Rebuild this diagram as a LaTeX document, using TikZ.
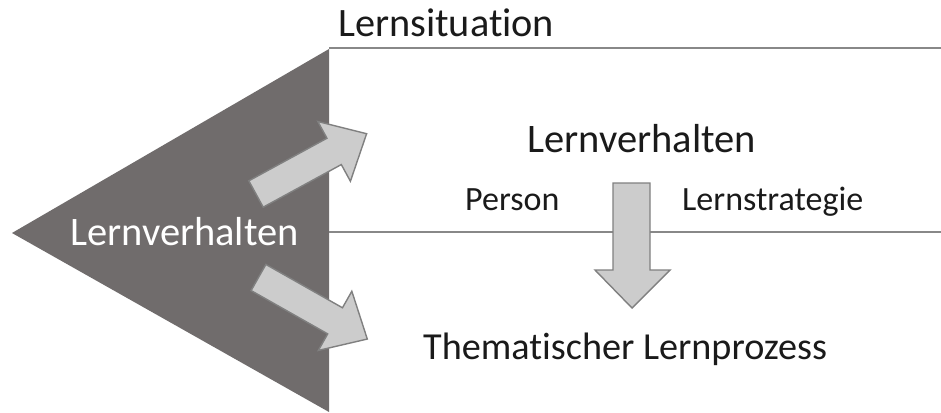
\documentclass[tikz,border=0pt]{standalone}
\usepackage{fontspec}
\setmainfont[Ligatures=NoCommon]{Carlito}
\definecolor{wedge}{RGB}{112,108,108}
\definecolor{arrowfill}{RGB}{204,204,204}
\definecolor{arrowline}{RGB}{128,128,128}
\definecolor{rule}{RGB}{136,136,136}
\definecolor{ink}{RGB}{26,26,26}
\begin{document}
\begin{tikzpicture}[x=1pt,y=-1pt,
  label/.style={inner sep=0pt,anchor=base west,text=ink,font=\fontsize{#1}{#1}\selectfont},
  label/.default=38.5,
  rulerline/.style={draw=rule,line width=1.6pt},
  fatarrow/.style={fill=arrowfill,draw=arrowline,line width=1.4pt,line join=miter}]
\useasboundingbox (0,0) rectangle (941,412);
\fill[white] (0,0) rectangle (941,412);

% wedge on the left
\fill[wedge] (12,233) -- (329,49) -- (329,412) -- cycle;

% horizontal rules
\coordinate (topL) at (329,48);
\coordinate (topR) at (941,48);
\coordinate (midL) at (329,232);
\coordinate (midR) at (941,232);
\draw[rulerline] (topL) -- (topR);
\draw[rulerline] (midL) -- (midR);

% diagonal block arrows out of the wedge
\begin{scope}[shift={(256,194)},rotate=28.6]
  \draw[fatarrow] (0,-15) -- (89,-15) -- (89,-34) -- (126,0) -- (89,34) -- (89,15) -- (0,15) -- cycle;
\end{scope}
\begin{scope}[shift={(258.5,277.5)},rotate=-29.5]
  \draw[fatarrow] (0,-15) -- (88,-15) -- (88,-34) -- (125,0) -- (88,34) -- (88,15) -- (0,15) -- cycle;
\end{scope}

% vertical block arrow
\draw[fatarrow] (613,183) -- (650,183) -- (650,270) -- (670,270) -- (632,308) -- (595,270) -- (613,270) -- cycle;

% labels
\node[label=40.3] (sit) at (338,37) {Lernsituation};
\node[label=40.5] (lv) at (527,152) {Lernverhalten};
\node[label=34] (pers) at (465,210) {Person};
\node[label=34] (strat) at (682,210) {Lernstrategie};
\node[label=38.2] (thema) at (423,359) {Thematischer Lernprozess};
\node[label=40.5,text=white] (wlv) at (70,245) {Lernverhalten};
\end{tikzpicture}
\end{document}
